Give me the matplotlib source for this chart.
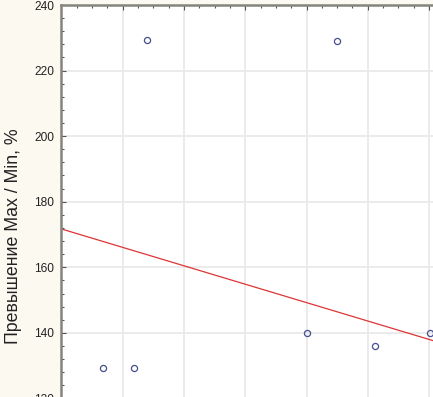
import matplotlib.pyplot as plt
from matplotlib.ticker import MultipleLocator, AutoMinorLocator, NullFormatter

x_vals = [0.685, 1.19, 1.393, 4.003, 4.50, 5.11, 6.01]
y_vals = [129.2, 129.2, 229.2, 140.0, 229.1, 135.9, 140.0]

# regression line end points
fit_x = [0.0, 6.07]
fit_y = [171.7, 137.6]

y_label = 'Превышение Max / Min, %'

plt.rcParams['font.family'] = ['Liberation Sans', 'DejaVu Sans']

fig = plt.figure(figsize=(4.33, 3.97), dpi=100)
fig.patch.set_facecolor('#fcf9f1')

# axes run past the right and bottom edges, like the cropped original
ax = fig.add_axes([0.1416, -0.1688, 0.991, 1.1562])
ax.set_facecolor('white')

ax.plot(fit_x, fit_y, color='#dd3535', lw=0.9, zorder=2)
ax.plot(x_vals, y_vals, 'o', ms=4.4, mfc='none', mec='#46508f', mew=0.9, zorder=3)

ax.set_xlim(0, 7)
ax.set_ylim(100, 240)
ax.xaxis.set_major_locator(MultipleLocator(1))
ax.xaxis.set_minor_locator(AutoMinorLocator(4))
ax.yaxis.set_major_locator(MultipleLocator(20))
ax.yaxis.set_minor_locator(AutoMinorLocator(5))
ax.xaxis.set_major_formatter(NullFormatter())

ax.grid(True, which='major', color='#e9e9e9', lw=1.3, zorder=0)
ax.set_axisbelow(True)

for side in ['top', 'left']:
    ax.spines[side].set_color('#85857d')
    ax.spines[side].set_linewidth(1.8)
for side in ['right', 'bottom']:
    ax.spines[side].set_visible(False)

ax.tick_params(which='both', direction='in', top=True, bottom=False, right=False,
               color='#555555', width=0.8)
ax.tick_params(which='major', length=3.5)
ax.tick_params(which='minor', length=2.2)
ax.tick_params(axis='y', labelsize=8.6, labelcolor='#222222', pad=5)

fig.text(14 / 433, 1 - 236 / 397, y_label, rotation=90, ha='center', va='center',
         fontsize=12.8, color='#222222')

plt.savefig('out.png', dpi=100, facecolor=fig.get_facecolor())
